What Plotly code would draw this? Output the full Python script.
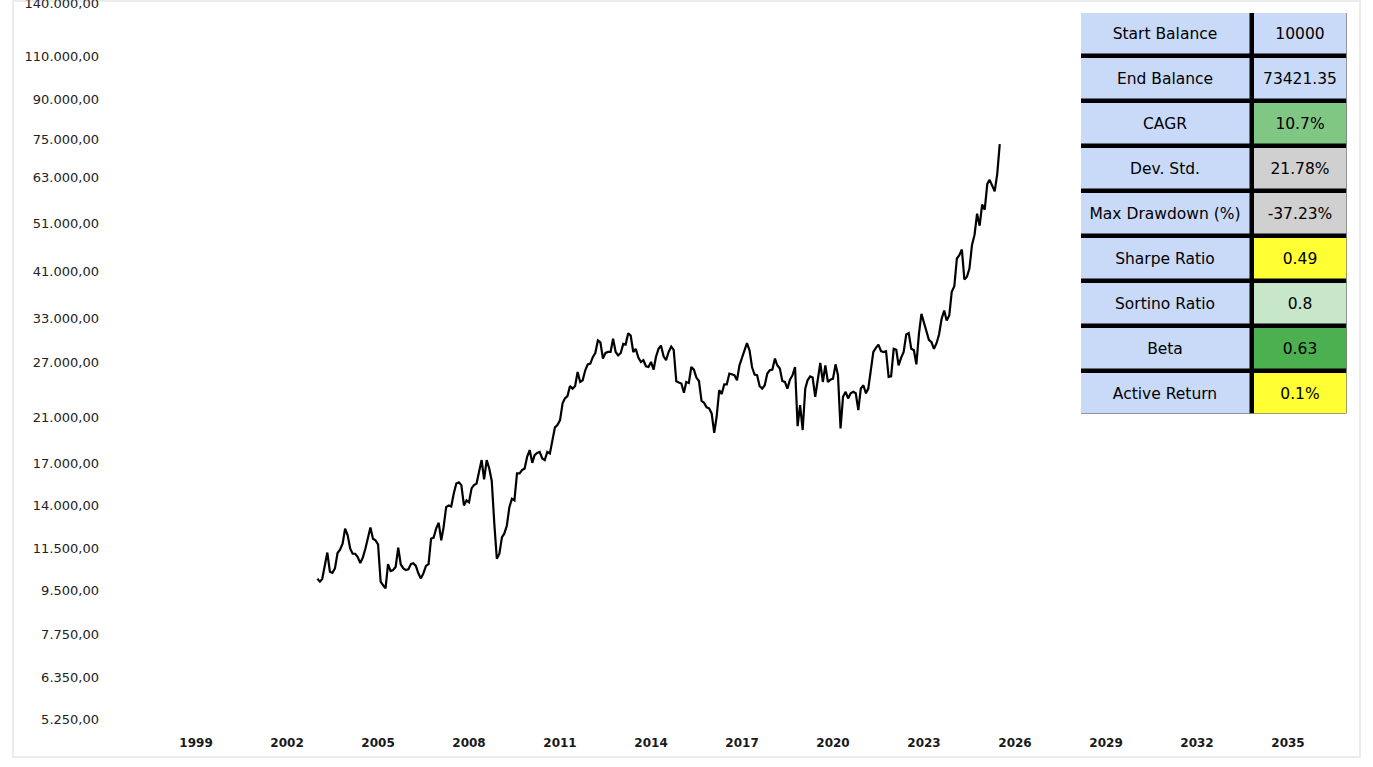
import plotly.graph_objects as go
import pandas as pd

W, H = 1373, 767

# ---------------- data ----------------
start_month = "2003-01-01"
balance = [
    10000, 9870, 10000, 10740, 11280, 10330, 10280, 10490, 11260, 11430,
    11750, 12590, 12210, 11480, 11220, 11220, 11050, 10750, 11020, 11480,
    12110, 12650, 12020, 11930, 11710, 9870, 9720, 9570, 10700, 10360,
    10410, 10570, 11540, 10690, 10490, 10410, 10450, 10700, 10740, 10610,
    10260, 10020, 10260, 10610, 10700, 12020, 12080, 12590, 12930, 11930,
    12670, 13890, 14000, 13940, 14770, 15480, 15560, 15370, 14000, 14330,
    14210, 15140, 15370, 15480, 16340, 17240, 15780, 17240, 16590, 15670,
    12870, 10970, 11220, 12110, 12300, 12770, 13890, 14440, 14330, 16220,
    16220, 16460, 16590, 17500, 18050, 17020, 17640, 17820, 17900, 17370,
    17240, 17900, 17770,
    19040, 20030, 20240, 20710, 22360, 22880, 23120, 24220, 23930, 24190,
    25830, 24670, 24860, 26030, 26750, 26840, 27670, 28180, 29850, 29600,
    27460, 28180, 28310, 28310, 30070, 28310, 27880, 28180, 29380, 29290,
    30850, 30520, 28310, 28720, 27590, 27040, 27250, 26510, 26420, 27040,
    26110, 27670, 28720, 29150, 27750, 27250, 28310, 29020, 28590, 24750,
    24600, 24490, 23480, 24670, 24560, 26420, 26110, 25170, 24780, 22630,
    22430, 21960, 21860, 21360, 19540, 21030, 23760, 23340, 24410, 24410,
    25640, 25560, 25450, 24860, 26630, 27590, 28530, 29470, 28530, 26420,
    25530, 25450, 24190, 23930, 24300, 25640, 26030, 26110, 27460, 26630,
    26240,
    24780, 24670, 23930, 24940, 25450, 26420, 20150, 22190, 19790, 23930,
    24860, 25310, 25170, 23050, 24670, 26910, 24670, 26630, 24670, 24940,
    25050, 26750, 25450, 19940, 23050, 23580, 22880, 23420, 23580, 23420,
    21690, 23930, 24300, 23420, 23930, 26420, 28310, 28850, 29290, 28420,
    28310, 28420, 25240, 25310, 28720, 28590, 26630, 27590, 28310, 30670,
    30850, 28720, 28530, 26750, 30760, 33720, 32300, 30990, 29930, 29600,
    28720, 29470, 30670, 32960, 34230, 32700, 33460, 37290, 38270, 43460,
    44120, 45290, 39470, 39970, 41510, 46250, 48490, 53390, 50530, 55650,
    54380, 61210, 62340, 60730, 59160, 64080, 73421.35,
]
dates = pd.date_range(start_month, periods=len(balance), freq="MS")

y_ticks = [5250, 6350, 7750, 9500, 11500, 14000, 17000, 21000, 27000,
           33000, 41000, 51000, 63000, 75000, 90000, 110000, 140000]
y_ticktext = [f"{v:,.2f}".replace(",", "X").replace(".", ",").replace("X", ".")
              for v in y_ticks]
x_years = list(range(1999, 2036, 3))

metric_names = ["Start Balance", "End Balance", "CAGR", "Dev. Std.",
                "Max Drawdown (%)", "Sharpe Ratio", "Sortino Ratio", "Beta",
                "Active Return"]
metric_values = ["10000", "73421.35", "10.7%", "21.78%", "-37.23%",
                 "0.49", "0.8", "0.63", "0.1%"]
palette = ["#c9daf8", "#81c784", "#d0d0d0", "#ffff33", "#c8e6c9", "#4caf50"]
value_color_idx = [0, 0, 1, 2, 2, 3, 4, 5, 3]

# ---------------- figure ----------------
FONT = "DejaVu Sans"
fig = go.Figure()

fig.add_trace(go.Scatter(
    x=dates, y=balance, mode="lines",
    line=dict(color="black", width=2.2),
    hoverinfo="skip", xaxis="x", yaxis="y",
))

# table: black underlay + coloured bricks with gaps
nrows = len(metric_names)
row_h = 45
x_edges = [1079, 1251.5, 1349]
y_edges = [11 + row_h * k for k in range(nrows + 1)]

fig.add_trace(go.Heatmap(
    z=[[0]], x=[x_edges[0], x_edges[-1]], y=[y_edges[0], y_edges[-1]],
    colorscale=[[0, "black"], [1, "black"]], showscale=False,
    hoverinfo="skip", xaxis="x2", yaxis="y2",
))

z = [[0, value_color_idx[r]] for r in range(nrows)]
text = [[metric_names[r], metric_values[r]] for r in range(nrows)]
n = len(palette) - 1
colorscale = [[i / n, c] for i, c in enumerate(palette)]
fig.add_trace(go.Heatmap(
    z=z, x=x_edges, y=y_edges, text=text, texttemplate="%{text}",
    textfont=dict(family=FONT, size=15.5, color="black"),
    colorscale=colorscale, zmin=0, zmax=n, showscale=False,
    xgap=4.5, ygap=4.5, hoverinfo="skip", xaxis="x2", yaxis="y2",
))

tbl_top, tbl_bot = 13, 413.5
tbl_left, tbl_right = 1081, 1346.5

fig.update_layout(
    width=W, height=H,
    margin=dict(l=0, r=0, t=0, b=0),
    paper_bgcolor="white", plot_bgcolor="white",
    showlegend=False,
    xaxis=dict(
        domain=[108 / W, 1359 / W], type="date",
        range=["1996-02-06", "2037-05-05"],
        tickvals=[f"{y}-01-01" for y in x_years],
        ticktext=[str(y) for y in x_years],
        showgrid=False, zeroline=False, showline=False, ticks="",
        tickfont=dict(family=FONT, size=12, color="#191919", weight="bold"),
        ticklabelstandoff=10, automargin=False, fixedrange=True,
        ticklabeloverflow="allow",
    ),
    yaxis=dict(
        domain=[(H - 724) / H, 1], type="log",
        range=[3.7108, 5.1531],
        tickvals=y_ticks, ticktext=y_ticktext,
        showgrid=False, zeroline=False, showline=False, ticks="",
        tickfont=dict(family=FONT, size=13, color="#222222"),
        ticklabelstandoff=8, automargin=False, fixedrange=True,
        ticklabeloverflow="allow",
    ),
    xaxis2=dict(
        domain=[tbl_left / W, tbl_right / W], anchor="y2",
        range=[tbl_left, tbl_right], visible=False, fixedrange=True,
    ),
    yaxis2=dict(
        domain=[(H - tbl_bot) / H, (H - tbl_top) / H], anchor="x2",
        range=[tbl_bot, tbl_top], visible=False, fixedrange=True,
    ),
    shapes=[
        dict(type="rect", xref="paper", yref="paper",
             x0=13 / W, x1=1360 / W, y0=(H - 757) / H, y1=(H - 1) / H,
             fillcolor="rgba(0,0,0,0)", line=dict(color="#ececec", width=2),
             layer="below"),
    ],
)

fig.write_html("out.html", config={"displayModeBar": False},
               post_script="document.body.style.margin='0';")
